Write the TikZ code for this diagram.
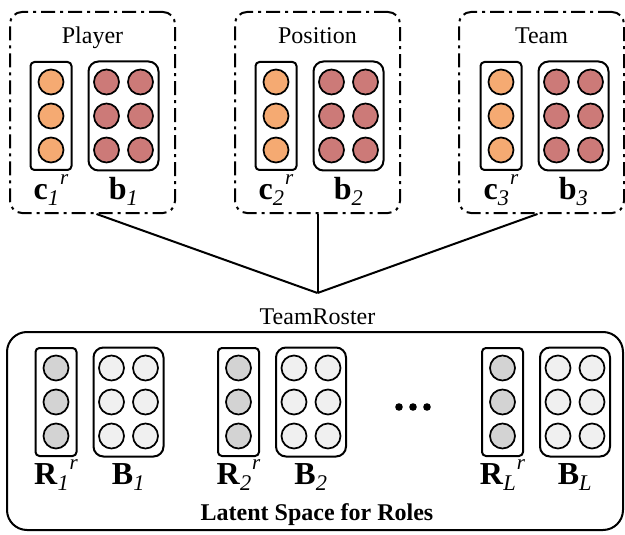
\documentclass[tikz,border=0pt]{standalone}
\usepackage{fontspec}
\setmainfont{Liberation Serif}
\usetikzlibrary{positioning}
\definecolor{featorange}{HTML}{F5AA72}
\definecolor{featred}{HTML}{CC7A78}
\definecolor{rolegray}{HTML}{D3D3D3}
\definecolor{rolelight}{HTML}{F0F0F0}
\newcommand{\embsym}[2]{\textbf{#1}\textsubscript{\itshape #2}}
\newcommand{\embsymr}[2]{\textbf{#1}\textsubscript{\itshape #2}\kern0.5pt\raisebox{15pt}{\fontsize{21}{21}\selectfont\itshape r}}
\tikzset{groupbox/.style = {draw=black, line width=2pt, rounded corners=12pt, dash pattern=on 14pt off 5pt on 3pt off 5pt, minimum width=165pt, minimum height=201pt}}
\tikzset{colbox/.style = {draw=black, line width=2pt, rounded corners=4pt, minimum width=41pt, minimum height=108pt}}
\tikzset{matbox/.style = {draw=black, line width=2pt, rounded corners=10pt, minimum width=70pt, minimum height=109pt}}
\tikzset{unit/.style = {circle, draw=black, line width=1.7pt, minimum size=25pt, inner sep=0pt}}
\tikzset{vlabel/.style = {font=\fontsize{32}{32}\selectfont, text height=21pt, text depth=6pt, inner sep=0pt}}
\tikzset{title/.style = {font=\fontsize{24}{24}\selectfont, anchor=base, inner sep=0pt}}
\tikzset{link/.style = {line width=2pt}}

\begin{document}
\begin{tikzpicture}[x=1pt, y=-1pt]
\useasboundingbox (0,0) rectangle (625,535);
% attribute groups
\node [groupbox] (player) at (92.5,112.5) {};
\node [groupbox] (position) at (317.5,112.5) {};
\node [groupbox] (team) at (541.5,112.5) {};
\node [title] (playername) at (92.5,44) {Player};
\node [title] (positionname) at (317.5,44) {Position};
\node [title] (teamname) at (541.5,44) {Team};

\node [colbox] (c1) at (51,116) {};
\node [matbox, right=15pt of c1] (b1) {};
\node [colbox] (c2) at (276,116) {};
\node [matbox, right=15pt of c2] (b2) {};
\node [colbox] (c3) at (501,116) {};
\node [matbox, right=15pt of c3] (b3) {};

\foreach \g in {c1,c2,c3}
  \foreach \dy [count=\i] in {-34,0,34}
    \node [unit, fill=featorange] (\g u\i) at ([yshift=\dy pt]\g.center) {};
\foreach \g in {b1,b2,b3}
  \foreach \dx [count=\j] in {-17,17}
    \foreach \dy [count=\i] in {-34,0,34}
      \node [unit, fill=featred] (\g u\j\i) at ([xshift=\dx pt, yshift=\dy pt]\g.center) {};

\node [vlabel, below=7pt of c1] (c1lab) {\embsymr{c}{1}};
\node [vlabel, below=7pt of b1] (b1lab) {\embsym{b}{1}};
\node [vlabel, below=7pt of c2] (c2lab) {\embsymr{c}{2}};
\node [vlabel, below=7pt of b2] (b2lab) {\embsym{b}{2}};
\node [vlabel, below=7pt of c3] (c3lab) {\embsymr{c}{3}};
\node [vlabel, below=7pt of b3] (b3lab) {\embsym{b}{3}};

% roster
\coordinate (join) at (317.5,293);
\node [title] (roster) at (317.5,324) {TeamRoster};
\draw [link] ([xshift=4pt]player.south) -- (join);
\draw [link] (position.south) -- (join);
\draw [link] ([xshift=-4pt]team.south) -- (join);

% latent space
\node [draw=black, line width=2pt, rounded corners=20pt, minimum width=616pt, minimum height=198pt] (latent) at (315,431) {};
\node [colbox] (r1) at (56,402) {};
\node [matbox, right=15pt of r1] (bb1) {};
\node [colbox] (r2) at (238.5,402) {};
\node [matbox, right=15pt of r2] (bb2) {};
\node [colbox] (rl) at (502.5,402) {};
\node [matbox, right=15pt of rl] (bbl) {};

\foreach \g in {r1,r2,rl}
  \foreach \dy [count=\i] in {-34,0,34}
    \node [unit, fill=rolegray] (\g u\i) at ([yshift=\dy pt]\g.center) {};
\foreach \g in {bb1,bb2,bbl}
  \foreach \dx [count=\j] in {-17,17}
    \foreach \dy [count=\i] in {-34,0,34}
      \node [unit, fill=rolelight] (\g u\j\i) at ([xshift=\dx pt, yshift=\dy pt]\g.center) {};

\node (dots) at (413,407) {};
\foreach \dx in {-14,0,14}
  \fill ([xshift=\dx pt]dots.center) circle (3.8pt);

\node [vlabel, below=6pt of r1] (r1lab) {\embsymr{R}{1}};
\node [vlabel, below=6pt of bb1] (bb1lab) {\embsym{B}{1}};
\node [vlabel, below=6pt of r2] (r2lab) {\embsymr{R}{2}};
\node [vlabel, below=6pt of bb2] (bb2lab) {\embsym{B}{2}};
\node [vlabel, below=6pt of rl] (rllab) {\embsymr{R}{L}};
\node [vlabel, below=6pt of bbl] (bbllab) {\embsym{B}{L}};
\node [title, font=\fontsize{24}{24}\selectfont\bfseries] (latentname) at (317,520) {Latent Space for Roles};
\end{tikzpicture}
\end{document}
